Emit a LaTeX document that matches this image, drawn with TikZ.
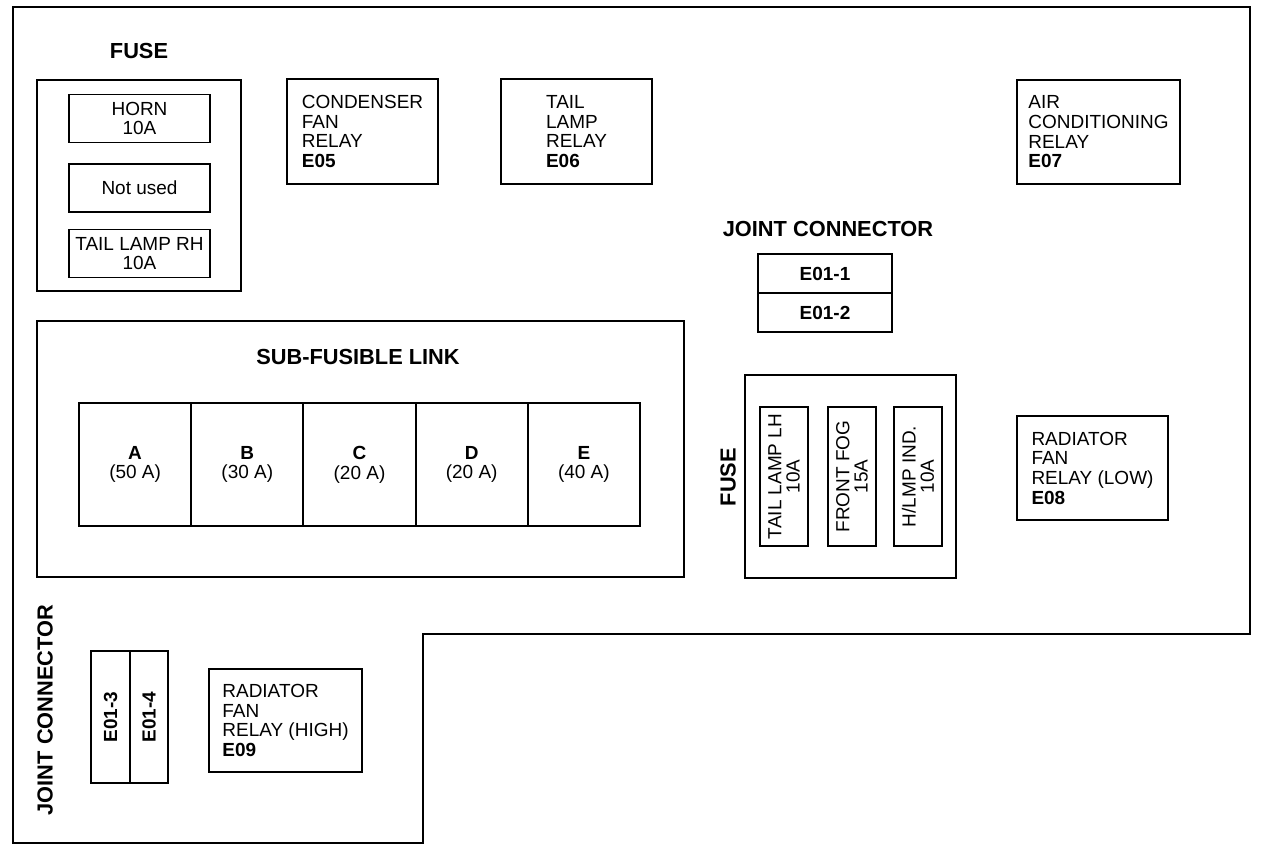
\documentclass[tikz,border=0pt]{standalone}
\usepackage{fontspec}
\setmainfont{Liberation Sans}
\usetikzlibrary{positioning}

\begin{document}
\begin{tikzpicture}[x=0.025cm, y=-0.025cm]
  % 统一设置：外壳、方框、文字样式
  \tikzset{
    case line/.style={line width=2pt, draw=black},
    box line/.style={draw=black, line width=1.4pt},
    title text/.style={font=\fontsize{15.5}{17}\selectfont\bfseries, inner sep=0pt},
    label text/.style={font=\fontsize{13.5}{14}\selectfont},
    relay box/.style={box line, label text, align=left, inner sep=0pt},
    fuse box/.style={box line, label text, align=center, inner sep=0pt,
      minimum width=3.525cm, minimum height=1.2cm},
    blade box/.style={box line, align=center, inner sep=0pt, rotate=90,
      font=\fontsize{13.5}{13}\selectfont, minimum width=3.475cm, minimum height=1.2cm},
    link cell/.style={box line, label text, align=center, inner sep=0pt,
      minimum width=2.805cm, minimum height=3.075cm},
    joint cell/.style={box line, font=\fontsize{13.5}{14}\selectfont\bfseries, inner sep=0pt}
  }
  \useasboundingbox (0,0) rectangle (1264,850);

  % =======================
  % 外壳轮廓（右下角缺口）
  % =======================
  \draw[case line] (13,7) -- (1250,7) -- (1250,634) -- (423,634)
    -- (423,843) -- (13,843) -- cycle;

  % =======================
  % 左上：保险丝组
  % =======================
  \node[title text] (fuseTitle) at (139,51) {FUSE};
  \node[box line, minimum width=5.1cm, minimum height=5.275cm] (fuseL) at (139,185.5) {};
  \node[fuse box] (horn) at (139.5,118.5) {HORN\\10A};
  \node[fuse box] (notUsed) at (139.5,188) {Not used};
  \node[fuse box] (tailRH) at (139.5,253.5) {TAIL LAMP RH\\10A};

  % =======================
  % 上排继电器
  % =======================
  \node[relay box, minimum width=3.775cm, minimum height=2.625cm] (relayE05)
    at (362.5,131.5) {CONDENSER\\FAN\\RELAY\\\textbf{E05}};
  \node[relay box, minimum width=3.775cm, minimum height=2.625cm] (relayE06)
    at (576.5,131.5) {TAIL\\LAMP\\RELAY\\\textbf{E06}};
  \node[relay box, minimum width=4.075cm, minimum height=2.6cm] (relayE07)
    at (1098.5,132) {AIR\\CONDITIONING\\RELAY\\\textbf{E07}};

  % =======================
  % 右侧接线连接器 E01-1 / E01-2
  % =======================
  \node[title text] (jointTitle) at (828,229) {JOINT CONNECTOR};
  \node[joint cell, minimum width=3.35cm, minimum height=0.975cm] (e011) at (825,273.5) {E01-1};
  \node[joint cell, minimum width=3.35cm, minimum height=0.975cm] (e012) at (825,312.5) {E01-2};

  % =======================
  % 副易熔线（A--E 五格）
  % =======================
  \node[box line, minimum width=16.175cm, minimum height=6.4cm] (subLink) at (360.5,449) {};
  \node[title text] (subTitle) at (358,357) {SUB-FUSIBLE LINK};
  \foreach \name/\amp [count=\i from 0] in {A/50, B/30, C/20, D/20, E/40}
    \node[link cell] (link\name) at (135.1+112.2*\i,464.5) {\textbf{\name}\\(\amp{} A)};

  % =======================
  % 右侧竖排保险丝
  % =======================
  \node[box line, minimum width=5.275cm, minimum height=5.075cm] (fuseR) at (850.5,476.5) {};
  \node[title text, rotate=90] (fuseRTitle) at (728,477) {FUSE};
  \node[blade box] (tailLH) at (784,476.5) {TAIL LAMP LH\\10A};
  \node[blade box] (frontFog) at (852,476.5) {FRONT FOG\\15A};
  \node[blade box] (hlmpInd) at (918,476.5) {H/LMP IND.\\10A};

  \node[relay box, minimum width=3.775cm, minimum height=2.6cm] (relayE08)
    at (1092.5,468) {RADIATOR\\FAN\\RELAY (LOW)\\\textbf{E08}};

  % =======================
  % 左下：连接器 E01-3 / E01-4 与高速继电器
  % =======================
  \node[title text, rotate=90] (jointTitleB) at (45,710) {JOINT CONNECTOR};
  \node[joint cell, rotate=90, minimum width=3.3cm, minimum height=0.975cm] (e013) at (110.5,717) {E01-3};
  \node[joint cell, rotate=90, minimum width=3.3cm, minimum height=0.95cm] (e014) at (149,717) {E01-4};

  \node[relay box, minimum width=3.825cm, minimum height=2.575cm] (relayE09)
    at (285.5,720.5) {RADIATOR\\FAN\\RELAY (HIGH)\\\textbf{E09}};

\end{tikzpicture}
\end{document}
